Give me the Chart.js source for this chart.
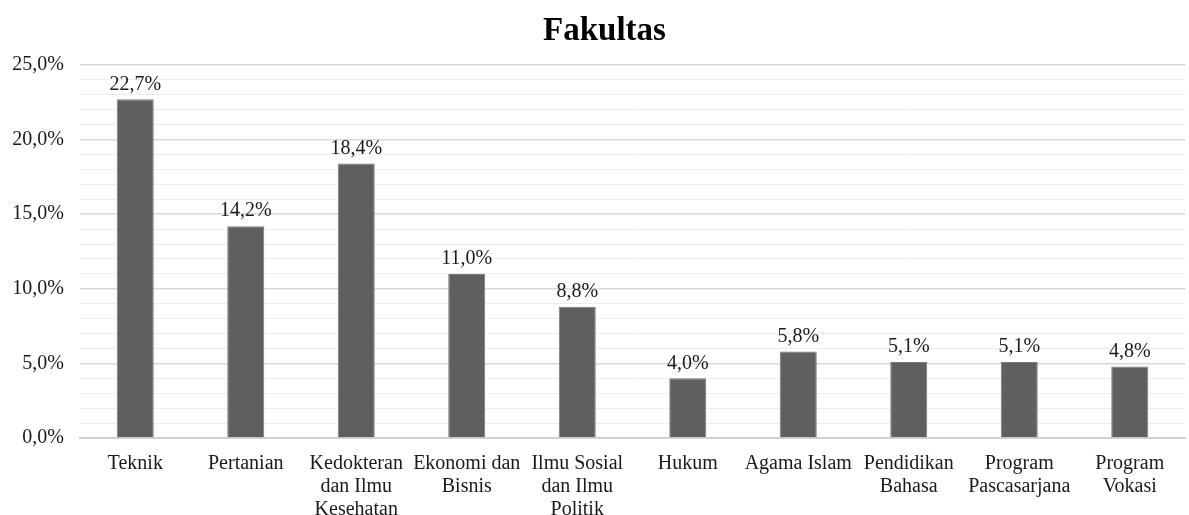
<!DOCTYPE html>
<html lang="id">
<head>
<meta charset="utf-8">
<title>Fakultas</title>
<script src="https://cdn.jsdelivr.net/npm/chart.js@4/dist/chart.umd.min.js"></script>
<style>
  html, body { margin: 0; padding: 0; background: #fff; }
  #wrap { width: 1189px; height: 515px; }
</style>
</head>
<body>
<div id="wrap"><canvas id="chart"></canvas></div>
<script>
const chartTitle = 'Fakultas';
const categories = [
  'Teknik',
  'Pertanian',
  ['Kedokteran', 'dan Ilmu', 'Kesehatan'],
  ['Ekonomi dan', 'Bisnis'],
  ['Ilmu Sosial', 'dan Ilmu', 'Politik'],
  'Hukum',
  'Agama Islam',
  ['Pendidikan', 'Bahasa'],
  ['Program', 'Pascasarjana'],
  ['Program', 'Vokasi']
];
const percentages = [22.7, 14.2, 18.4, 11.0, 8.8, 4.0, 5.8, 5.1, 5.1, 4.8];

const fontFamily = '"Liberation Serif", "Times New Roman", serif';

function fmt(v) {
  return v.toFixed(1).replace('.', ',') + '%';
}

// draws the value above each bar
const barLabels = {
  id: 'barLabels',
  afterDatasetsDraw(chart) {
    const ctx = chart.ctx;
    const meta = chart.getDatasetMeta(0);
    ctx.save();
    ctx.font = '20px ' + fontFamily;
    ctx.fillStyle = '#1a1a1a';
    ctx.textAlign = 'center';
    ctx.textBaseline = 'bottom';
    meta.data.forEach((bar, i) => {
      ctx.fillText(fmt(percentages[i]), bar.x, bar.y - 5);
    });
    ctx.restore();
  }
};

// title sits a bit right of the canvas centre, like the original
const titleText = {
  id: 'titleText',
  afterDraw(chart) {
    const ctx = chart.ctx;
    ctx.save();
    ctx.font = 'bold 33px ' + fontFamily;
    ctx.fillStyle = '#000';
    ctx.textAlign = 'center';
    ctx.textBaseline = 'middle';
    ctx.fillText(chartTitle, chart.width / 2 + 10, 31);
    ctx.restore();
  }
};

new Chart(document.getElementById('chart'), {
  type: 'bar',
  data: {
    labels: categories,
    datasets: [{
      data: percentages,
      backgroundColor: '#5f5f5f',
      borderColor: '#7a7a7a',
      borderWidth: 1,
      categoryPercentage: 1.0,
      barPercentage: 0.335
    }]
  },
  options: {
    responsive: true,
    maintainAspectRatio: false,
    animation: false,
    layout: { padding: { left: 0, right: 4, top: 65, bottom: 0 } },
    plugins: {
      legend: { display: false },
      tooltip: { enabled: false },
      title: { display: false }
    },
    scales: {
      x: {
        grid: { display: false, drawTicks: false },
        border: { color: '#d0d0d0', width: 2 },
        ticks: {
          color: '#1a1a1a',
          font: { family: fontFamily, size: 20, lineHeight: 1.15 },
          maxRotation: 0,
          autoSkip: false,
          padding: 14
        },
        afterFit(scale) { scale.height = 77; }
      },
      y: {
        min: 0,
        max: 25,
        grid: {
          color: ctx => (ctx.tick && ctx.tick.value % 5 === 0) ? '#d9d9d9' : '#ededed',
          lineWidth: ctx => (ctx.tick && ctx.tick.value % 5 === 0) ? 1.5 : 1,
          drawTicks: false
        },
        border: { display: false },
        ticks: {
          stepSize: 1,
          autoSkip: false,
          color: '#1a1a1a',
          font: { family: fontFamily, size: 20 },
          padding: 16,
          callback: v => (v % 5 === 0) ? fmt(v) : ''
        },
        afterFit(scale) { scale.width = 80; }
      }
    }
  },
  plugins: [barLabels, titleText]
});
</script>
</body>
</html>
